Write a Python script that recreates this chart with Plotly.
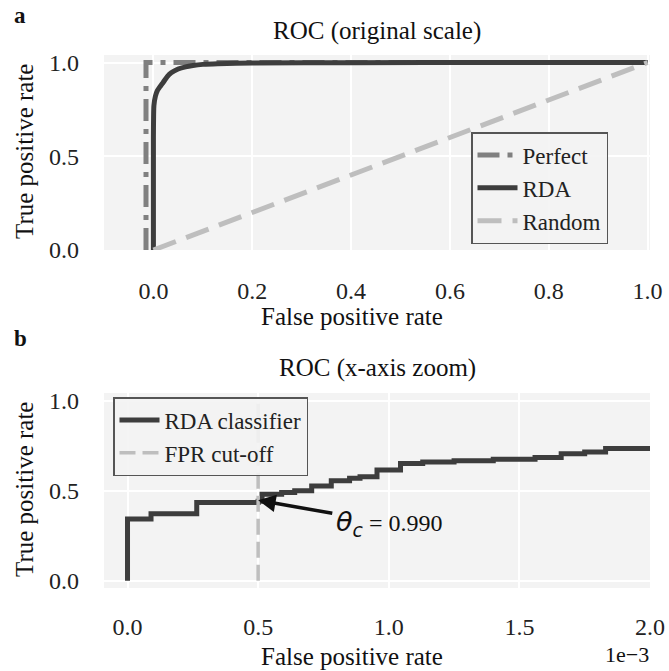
import plotly.graph_objects as go

# ---------------- data ----------------
# Panel a: full ROC
rda_fpr = [0.0, 0.0, 0.001, 0.004, 0.008, 0.013, 0.020, 0.028, 0.036, 0.050, 0.065, 0.080, 0.100, 0.130, 0.200, 0.400, 0.700, 1.0]
rda_tpr = [0.0, 0.600, 0.770, 0.820, 0.850, 0.870, 0.895, 0.925, 0.945, 0.965, 0.977, 0.984, 0.990, 0.994, 0.997, 0.999, 1.0, 1.0]
perfect_fpr = [-0.015, -0.015, 1.0]
perfect_tpr = [0.0, 1.0, 1.0]
random_fpr = [0.0, 1.0]
random_tpr = [0.0, 1.0]

# Panel b: zoomed ROC (FPR in units of 1e-3)
zoom_fpr_e3 = [0.0, 0.0, 0.09, 0.265, 0.50, 0.515, 0.59, 0.64, 0.705, 0.78, 0.85, 0.89, 0.955, 1.045, 1.13, 1.25, 1.40, 1.56, 1.66, 1.75, 1.83, 2.0]
zoom_tpr = [0.0, 0.343, 0.372, 0.435, 0.442, 0.480, 0.490, 0.500, 0.527, 0.556, 0.570, 0.578, 0.615, 0.652, 0.660, 0.667, 0.675, 0.685, 0.705, 0.715, 0.735, 0.738]
cutoff_fpr_e3 = 0.5
cutoff_tpr = [0.0, 1.0]
theta_c = 0.990
arrow_head = (0.50, 0.447)
text_center = (1.0, 0.32)

x_ticks_a = [0.0, 0.2, 0.4, 0.6, 0.8, 1.0]
y_ticks = [0.0, 0.5, 1.0]
x_ticks_b_e3 = [0.0, 0.5, 1.0, 1.5, 2.0]

# ---------------- style ----------------
SERIF = "Liberation Serif, Times New Roman, serif"
BG = "#f3f3f3"
C_RDA = "#3d3d3d"
C_PERF = "#808080"
C_RAND = "#bebebe"
FS_TICK = 24
FS_LAB = 25
FS_LEG = 23

W, H = 669, 671
xa_dom = [104 / W, 650 / W]
ya_dom = [1 - 250 / H, 1 - 55 / H]
yb_dom = [1 - 588 / H, 1 - 393 / H]

fig = go.Figure()

fig.add_trace(go.Scatter(x=perfect_fpr, y=perfect_tpr, mode="lines", name="Perfect",
                         line=dict(color=C_PERF, width=5, dash="22px,8px,5px,8px"),
                         xaxis="x", yaxis="y", legend="legend"))
fig.add_trace(go.Scatter(x=rda_fpr, y=rda_tpr, mode="lines", name="RDA",
                         line=dict(color=C_RDA, width=5, shape="spline", smoothing=0.6),
                         xaxis="x", yaxis="y", legend="legend"))
fig.add_trace(go.Scatter(x=random_fpr, y=random_tpr, mode="lines", name="Random",
                         line=dict(color=C_RAND, width=5, dash="24px,11px"),
                         xaxis="x", yaxis="y", legend="legend"))

fig.add_trace(go.Scatter(x=[v * 1e-3 for v in zoom_fpr_e3], y=zoom_tpr, mode="lines",
                         name="RDA classifier",
                         line=dict(color=C_RDA, width=5, shape="hv"),
                         xaxis="x2", yaxis="y2", legend="legend2"))
fig.add_trace(go.Scatter(x=[cutoff_fpr_e3 * 1e-3] * 2, y=cutoff_tpr, mode="lines",
                         name="FPR cut-off",
                         line=dict(color=C_RAND, width=3.5, dash="16px,7px"),
                         xaxis="x2", yaxis="y2", legend="legend2"))

axis_common = dict(showgrid=True, gridcolor="white", gridwidth=2, zeroline=False,
                   showline=False, ticks="", automargin=False,
                   tickfont=dict(family=SERIF, size=FS_TICK, color="#222"))

fig.update_layout(
    width=W, height=H,
    margin=dict(l=0, r=0, t=0, b=0, autoexpand=False),
    paper_bgcolor="white", plot_bgcolor=BG,
    showlegend=True,
    xaxis=dict(domain=xa_dom, range=[-0.1, 1.005], tickvals=x_ticks_a,
               ticktext=[f"{v:.1f}" for v in x_ticks_a], anchor="y",
               ticklabelstandoff=24, **axis_common),
    yaxis=dict(domain=ya_dom, range=[0.0, 1.04], tickvals=y_ticks,
               ticktext=[f"{v:.1f}" for v in y_ticks], anchor="x",
               ticklabelstandoff=24, **axis_common),
    xaxis2=dict(domain=xa_dom, range=[-0.09e-3, 2.0e-3], tickvals=[v * 1e-3 for v in x_ticks_b_e3],
                ticktext=[f"{v:.1f}" for v in x_ticks_b_e3], anchor="y2",
                ticklabelstandoff=22, **axis_common),
    yaxis2=dict(domain=yb_dom, range=[-0.04, 1.043], tickvals=y_ticks,
                ticktext=[f"{v:.1f}" for v in y_ticks], anchor="x2",
                ticklabelstandoff=24, **axis_common),
    legend=dict(x=471 / W, y=1 - 132 / H, xanchor="left", yanchor="top",
                bgcolor="rgba(243,243,243,0.9)", bordercolor="#555", borderwidth=1.5,
                font=dict(family=SERIF, size=FS_LEG, color="#222"), itemwidth=40),
    legend2=dict(x=113 / W, y=1 - 397 / H, xanchor="left", yanchor="top",
                 bgcolor="rgba(243,243,243,0.9)", bordercolor="#555", borderwidth=1.5,
                 font=dict(family=SERIF, size=FS_LEG, color="#222"), itemwidth=40),
)

def txt(x, y, s, size=FS_LAB, angle=0, xanchor="center"):
    fig.add_annotation(x=x / W, y=1 - y / H, xref="paper", yref="paper", text=s,
                       showarrow=False, textangle=angle, xanchor=xanchor, yanchor="middle",
                       font=dict(family=SERIF, size=size, color="#111"))

txt(20, 16, "<b>a</b>", size=23)
txt(20, 338, "<b>b</b>", size=23)
txt(377, 31, "ROC (original scale)")
txt(377, 368, "ROC (x-axis zoom)")
txt(352, 317, "False positive rate")
txt(352, 656, "False positive rate")
txt(24, 152, "True positive rate", angle=-90)
txt(24, 490, "True positive rate", angle=-90)
txt(651, 654, "1e\u22123", size=22, xanchor="right")

# theta_c label with arrow pointing to the cut-off point
fig.add_annotation(x=arrow_head[0] * 1e-3, y=arrow_head[1], xref="x2", yref="y2",
                   ax=text_center[0] * 1e-3, ay=text_center[1], axref="x2", ayref="y2",
                   text=("<span style='font-family:DejaVu Sans;font-size:27px'><i>\u03b8</i><sub><i>c</i></sub></span>"
                         f" = {theta_c:.3f}"),
                   showarrow=True, arrowhead=2, arrowsize=1, arrowwidth=3.5,
                   arrowcolor="#111", standoff=0, startstandoff=2,
                   font=dict(family=SERIF, size=24, color="#111"))

fig.write_html("out.html")
